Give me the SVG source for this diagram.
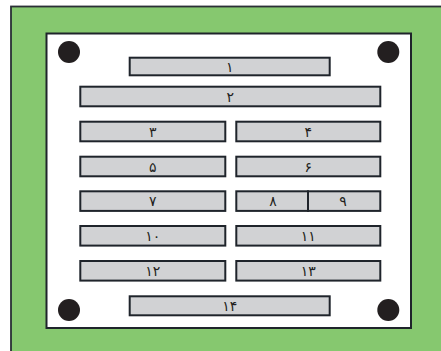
<svg xmlns="http://www.w3.org/2000/svg" width="441" height="351" viewBox="0 0 441 351">
<style>
.bar{fill:#d1d2d4;stroke:#1f242b;stroke-width:2}
.hole{fill:#231f20}
.t{font-family:"DejaVu Sans",sans-serif;font-size:14px;fill:#231f20;text-anchor:middle;dominant-baseline:central}
</style>
<rect width="441" height="351" fill="#ffffff"/>
<rect x="11" y="6.5" width="440" height="350" fill="#86c86f" stroke="#2a2f36" stroke-width="1.8"/>
<rect id="plate" x="46.5" y="33.5" width="364.5" height="294.5" fill="#ffffff" stroke="#1f242b" stroke-width="2"/>
<g id="holes">
<circle class="hole" cx="69" cy="52" r="11"/>
<circle class="hole" cx="388.3" cy="52" r="11"/>
<circle class="hole" cx="69" cy="310" r="11"/>
<circle class="hole" cx="388.3" cy="310" r="11"/>
</g>
<g id="n1"><rect class="bar" x="129.7" y="57.7" width="200" height="17.6"/><text class="t" x="229.7" y="66.5">۱</text></g>
<g id="n2"><rect class="bar" x="80.3" y="86.7" width="300" height="19.6"/><text class="t" x="230.3" y="96.5">۲</text></g>
<g id="n3"><rect class="bar" x="80.3" y="121.7" width="145" height="19.6"/><text class="t" x="152.8" y="131.5">۳</text></g>
<g id="n4"><rect class="bar" x="236.3" y="121.7" width="144" height="19.6"/><text class="t" x="308.3" y="131.5">۴</text></g>
<g id="n5"><rect class="bar" x="80.3" y="156.7" width="145" height="19.6"/><text class="t" x="152.8" y="166.5">۵</text></g>
<g id="n6"><rect class="bar" x="236.3" y="156.7" width="144" height="19.6"/><text class="t" x="308.3" y="166.5">۶</text></g>
<g id="n7"><rect class="bar" x="80.3" y="191.3" width="145" height="19.6"/><text class="t" x="152.8" y="201.1">۷</text></g>
<g id="n8"><rect class="bar" x="236.3" y="191.3" width="71.7" height="19.6"/><text class="t" x="273" y="201.1">۸</text></g>
<g id="n9"><rect class="bar" x="308" y="191.3" width="72.3" height="19.6"/><text class="t" x="343" y="201.1">۹</text></g>
<g id="n10"><rect class="bar" x="80.3" y="226" width="145" height="19.6"/><text class="t" x="152.8" y="235.8">۱۰</text></g>
<g id="n11"><rect class="bar" x="236.3" y="226" width="144" height="19.6"/><text class="t" x="308.3" y="235.8">۱۱</text></g>
<g id="n12"><rect class="bar" x="80.3" y="261" width="145" height="19.6"/><text class="t" x="152.8" y="270.8">۱۲</text></g>
<g id="n13"><rect class="bar" x="236.3" y="261" width="144" height="19.6"/><text class="t" x="308.3" y="270.8">۱۳</text></g>
<g id="n14"><rect class="bar" x="129.7" y="296.3" width="200" height="19"/><text class="t" x="229.7" y="305.8">۱۴</text></g>
<g id="connectors"/>
</svg>
